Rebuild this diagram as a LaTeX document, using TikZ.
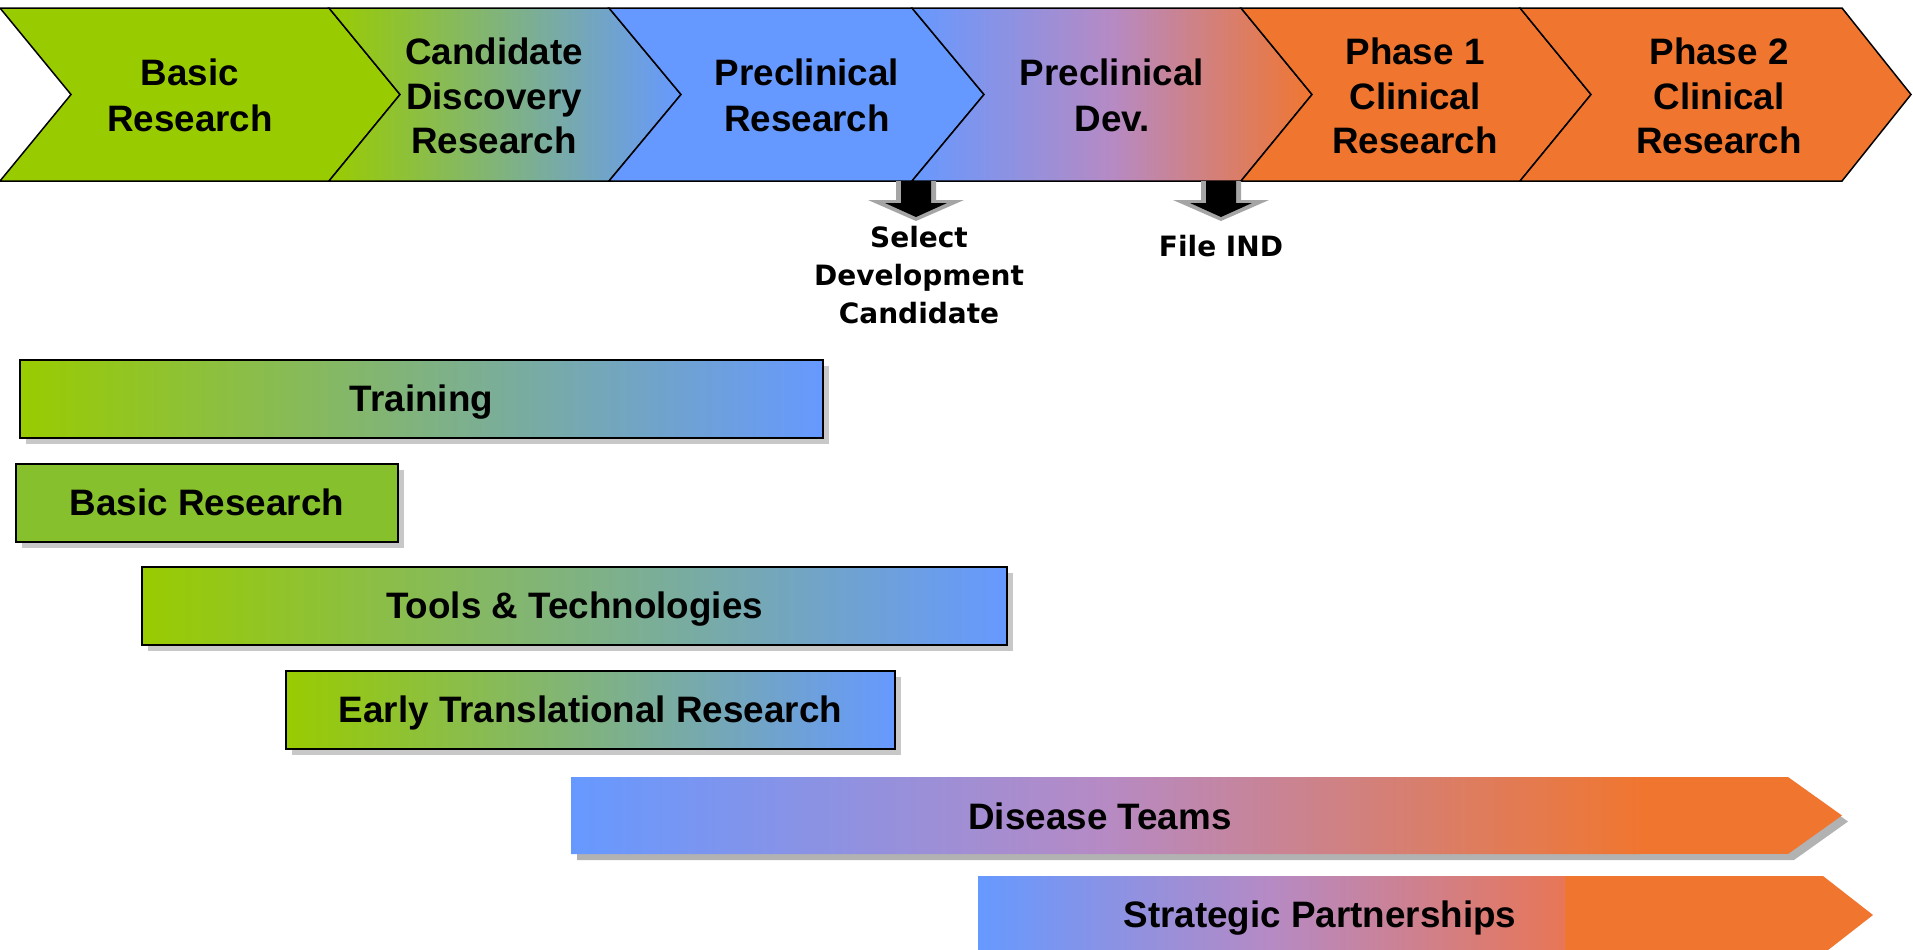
\documentclass[tikz,border=0pt]{standalone}
\usepackage{fontspec}
\setmainfont{Liberation Sans}
\newfontfamily\gatefont{DejaVu Sans}
\usetikzlibrary{positioning, shadows}

\definecolor{phgreen}{RGB}{153,204,0}
\definecolor{phleaf}{RGB}{134,192,44}
\definecolor{phblue}{RGB}{102,153,255}
\definecolor{phviolet}{RGB}{182,138,196}
\definecolor{phorange}{RGB}{240,118,48}
\definecolor{phrust}{RGB}{232,118,86}
\definecolor{phshadow}{RGB}{200,200,200}
\definecolor{phshade}{RGB}{178,178,178}
\definecolor{phgray}{RGB}{165,165,165}

\newcommand{\titlefont}{\bfseries\fontsize{18.4}{23}\selectfont}
\newcommand{\tighttitlefont}{\bfseries\fontsize{18.4}{22.3}\selectfont}
\newcommand{\milefont}{\gatefont\bfseries\fontsize{14}{18.8}\selectfont}

% milestone arrow below the phase band, #1 = centre x
\newcommand{\gatearrow}[1]{%
  \fill[phgray] (#1-20,181) -- (#1+20,181) -- (#1+20,200) -- (#1+48,200) -- (#1,221) -- (#1-48,200) -- (#1-20,200) -- cycle;
  \fill[black] (#1-15,181) -- (#1+15,181) -- (#1+15,203) -- (#1+31,203) -- (#1,217) -- (#1-31,203) -- (#1-15,203) -- cycle;
}

\begin{document}
\begin{tikzpicture}[
    x=0.5pt, y=-0.5pt,
    phase/.style ={draw=black, line width=0.75pt},
    title/.style ={align=center, font=\titlefont, inner sep=0pt},
    title3/.style ={align=center, font=\tighttitlefont, inner sep=0pt},
    gate/.style ={align=center, font=\milefont, inner sep=0pt},
    lbl/.style ={font=\titlefont, inner sep=0pt, text height=13.2pt, text depth=0pt},
    bar/.style ={draw=black, line width=1pt, anchor=north west, minimum height=38.75pt, inner sep=0pt,
                 font=\titlefont, text height=13.2pt, text depth=0pt,
                 drop shadow={shadow xshift=3pt, shadow yshift=-3pt, fill=phshadow, opacity=1}},
]
\path[use as bounding box, fill=white] (0,0) rectangle (1913,949);

% Phase band
\path[phase, fill=phgreen] (0,8) -- (329,8) -- (400,94.5) -- (329,181) -- (0,181) -- (71,94.5) -- cycle;
\path[phase, left color=phgreen, right color=phblue] (329,8) -- (609,8) -- (681,94.5) -- (609,181) -- (329,181) -- (400,94.5) -- cycle;
\path[phase, fill=phblue] (609,8) -- (912,8) -- (984,94.5) -- (912,181) -- (609,181) -- (681,94.5) -- cycle;
\path[phase, left color=phblue, right color=phorange, middle color=phviolet] (912,8) -- (1241,8) -- (1312,94.5) -- (1241,181) -- (912,181) -- (984,94.5) -- cycle;
\path[phase, fill=phorange] (1241,8) -- (1520,8) -- (1591,94.5) -- (1520,181) -- (1241,181) -- (1312,94.5) -- cycle;
\path[phase, fill=phorange] (1520,8) -- (1842,8) -- (1911,94.5) -- (1842,181) -- (1520,181) -- (1591,94.5) -- cycle;

\node[title] (basicph) at (190,95.5) {Basic\\Research};
\node[title3] (discovery) at (494,96) {Candidate\\Discovery\\Research};
\node[title] (preres) at (807,95.5) {Preclinical\\Research};
\node[title] (predev) at (1112,95.5) {Preclinical\\Dev.};
\node[title3] (phaseone) at (1415,96) {Phase 1\\Clinical\\Research};
\node[title3] (phasetwo) at (1719,96) {Phase 2\\Clinical\\Research};

% Milestones
\gatearrow{916}
\gatearrow{1221}
\node[gate] (select) at (919,275) {Select\\Development\\Candidate};
\node[gate] (ind) at (1221,246) {File IND};

% Programme bars
\node[bar, minimum width=401.5pt, left color=phgreen, right color=phblue] (training) at (19,359) {Training};
\node[bar, minimum width=191pt, fill=phleaf] (basic) at (15,463) {Basic Research};
\node[bar, minimum width=432.5pt, left color=phgreen, right color=phblue] (tools) at (141,566) {Tools \& Technologies};
\node[bar, minimum width=304.5pt, left color=phgreen, right color=phblue] (early) at (285,670) {Early Translational Research};

% Disease Teams
\fill[phshade] (577,783) -- (1794,783) -- (1848,821.5) -- (1794,860) -- (577,860) -- cycle;
\begin{scope}
  \clip (571,777) -- (1788,777) -- (1842,815.5) -- (1788,854) -- (571,854) -- cycle;
  \shade[left color=phblue, right color=phorange, middle color=phviolet] (571,777) rectangle (1640,854);
  \fill[phorange] (1639,777) rectangle (1845,854);
\end{scope}
\node[lbl] (disease) at (1100,816) {Disease Teams};

% Strategic Partnerships
\begin{scope}
  \clip (978,876) -- (1823,876) -- (1873,915) -- (1823,954) -- (978,954) -- cycle;
  \shade[left color=phblue, right color=phrust, middle color=phviolet] (978,876) rectangle (1566,954);
  \fill[phorange] (1565,876) rectangle (1875,954);
\end{scope}
\node[lbl] (partners) at (1320,914.5) {Strategic Partnerships};

\end{tikzpicture}
\end{document}
